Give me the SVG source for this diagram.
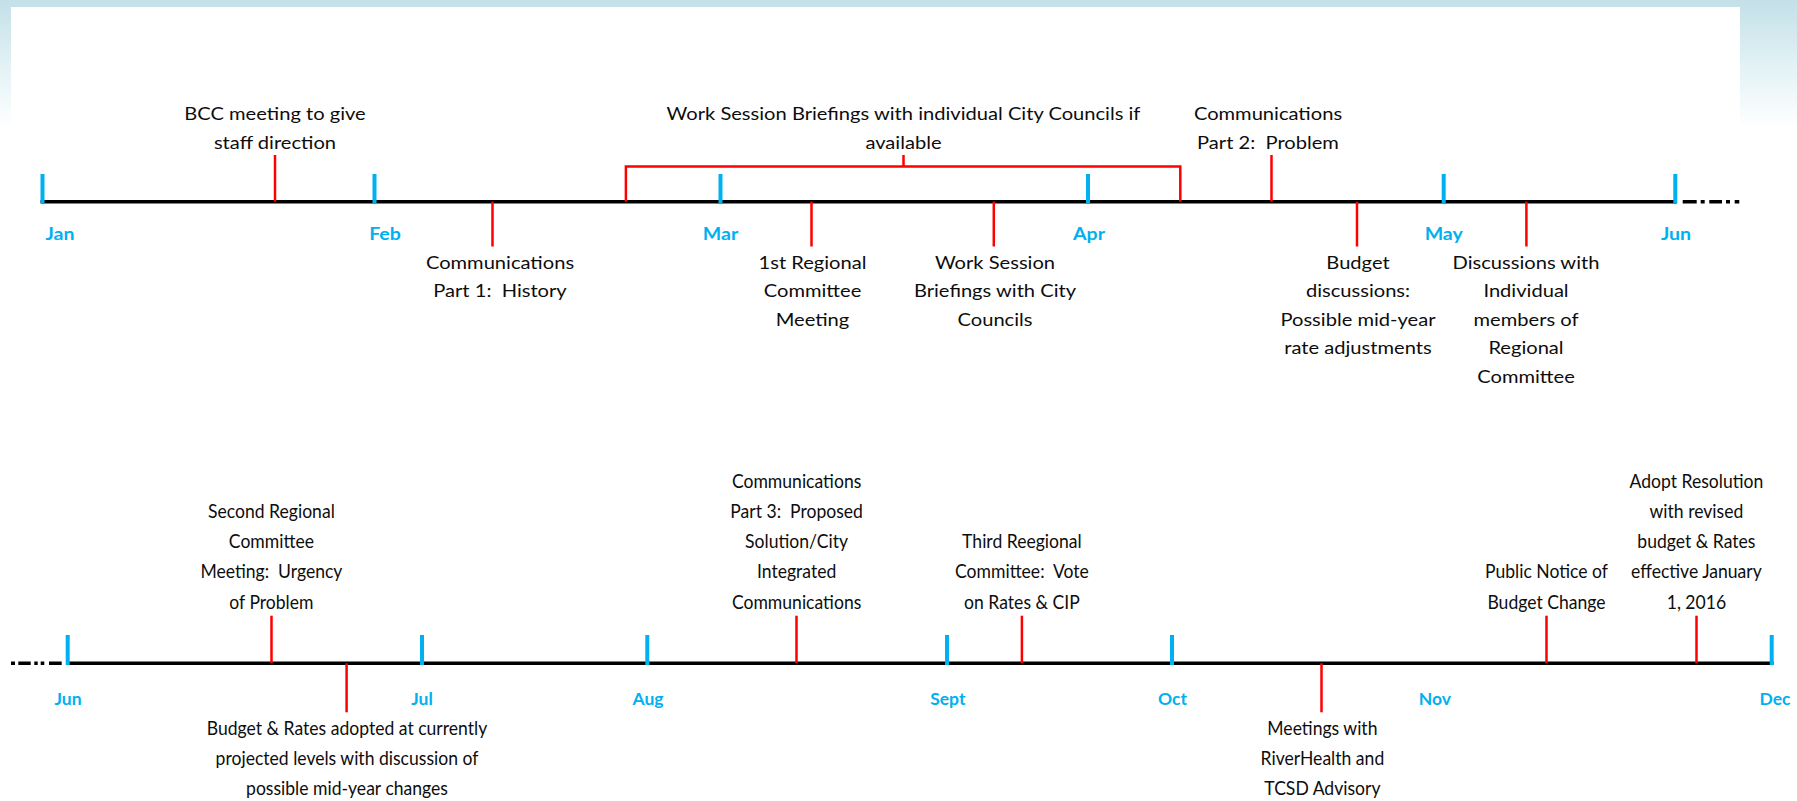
<svg xmlns="http://www.w3.org/2000/svg" width="1797" height="801" viewBox="0 0 1797 801">
<defs>
<linearGradient id="bg" x1="0" y1="0" x2="0" y2="1">
<stop offset="0" stop-color="#c3e0e8"/>
<stop offset="0.55" stop-color="#e4f3f6"/>
<stop offset="1" stop-color="#ffffff"/>
</linearGradient>
<style>
.axis{stroke:#000;stroke-width:3.5;fill:none}
.dd{stroke:#000;stroke-width:3.5;fill:none}
.tick{stroke:#00B0F0;stroke-width:4}
.ev{stroke:#FF0000;stroke-width:2.5;fill:none}
.t1{font-family:Lato,"Open Sans",sans-serif;font-size:16.5px;fill:#0d0d0d;text-anchor:middle;white-space:pre}
.t2{font-family:Lato,"Open Sans",sans-serif;font-size:18.5px;fill:#0d0d0d;text-anchor:middle;white-space:pre}
.m1{font-family:Lato,"Open Sans",sans-serif;font-size:17px;font-weight:bold;fill:#00B0F0;text-anchor:middle}
.m2{font-family:Lato,"Open Sans",sans-serif;font-size:17.5px;font-weight:bold;fill:#00B0F0;text-anchor:middle}
</style>
</defs>
<rect x="0" y="0" width="1797" height="801" fill="#ffffff"/>
<rect x="0" y="0" width="1797" height="128" fill="url(#bg)"/>
<rect x="11" y="7" width="1729" height="794" fill="#ffffff"/>

<g id="connectors">
<line class="axis" x1="40.5" y1="201.7" x2="1677" y2="201.7"/>
<path class="dd" d="M1682.7 201.7H1696.7M1700.7 201.7H1704.7M1709.3 201.7H1722M1726 201.7H1730M1734.7 201.7H1739.3"/>
<line class="axis" x1="66" y1="663.3" x2="1773.5" y2="663.3"/>
<path class="dd" d="M11 663.3H15M18.3 663.3H30.7M34.3 663.3H37.7M40.7 663.3H44.3M49 663.3H61.7"/>
</g>

<g id="months-top">
<line class="tick" x1="42.5" y1="174" x2="42.5" y2="203"/>
<line class="tick" x1="374.5" y1="174" x2="374.5" y2="203"/>
<line class="tick" x1="720.5" y1="174" x2="720.5" y2="203"/>
<line class="tick" x1="1088" y1="174" x2="1088" y2="203"/>
<line class="tick" x1="1443.7" y1="174" x2="1443.7" y2="203"/>
<line class="tick" x1="1675.3" y1="174" x2="1675.3" y2="203"/>
<g transform="translate(60,240) scale(1.15,1)"><text class="m1" x="0" y="0">Jan</text></g>
<g transform="translate(385,240) scale(1.15,1)"><text class="m1" x="0" y="0">Feb</text></g>
<g transform="translate(720.5,240) scale(1.15,1)"><text class="m1" x="0" y="0">Mar</text></g>
<g transform="translate(1089,240) scale(1.15,1)"><text class="m1" x="0" y="0">Apr</text></g>
<g transform="translate(1443.7,240) scale(1.15,1)"><text class="m1" x="0" y="0">May</text></g>
<g transform="translate(1676,240) scale(1.15,1)"><text class="m1" x="0" y="0">Jun</text></g>
</g>

<g id="months-bottom">
<line class="tick" x1="67.7" y1="635" x2="67.7" y2="665"/>
<line class="tick" x1="422" y1="635" x2="422" y2="665"/>
<line class="tick" x1="647.3" y1="635" x2="647.3" y2="665"/>
<line class="tick" x1="947" y1="635" x2="947" y2="665"/>
<line class="tick" x1="1172" y1="635" x2="1172" y2="665"/>
<line class="tick" x1="1771.7" y1="635" x2="1771.7" y2="665"/>
<text class="m2" x="68" y="705">Jun</text>
<text class="m2" x="422" y="705">Jul</text>
<text class="m2" x="648" y="705">Aug</text>
<text class="m2" x="947.8" y="705">Sept</text>
<text class="m2" x="1172.5" y="705">Oct</text>
<text class="m2" x="1434.8" y="705">Nov</text>
<text class="m2" x="1775" y="705">Dec</text>
</g>

<g id="bcc">
<line class="ev" x1="275" y1="155" x2="275" y2="201.7"/>
<g transform="translate(275,0) scale(1.22,1)"><text class="t1" x="0" y="120.5">BCC meeting to give</text><text class="t1" x="0" y="149">staff direction</text></g>
</g>
<g id="comm1">
<line class="ev" x1="492.5" y1="201.7" x2="492.5" y2="246.5"/>
<g transform="translate(500,0) scale(1.22,1)"><text class="t1" x="0" y="269">Communications</text><text class="t1" x="0" y="297.5">Part 1:  History</text></g>
</g>
<g id="wsb-individual">
<path class="ev" d="M625.9 201.7V166.5H1180.3V201.7M903.5 166.5V155"/>
<g transform="translate(903.5,0) scale(1.22,1)"><text class="t1" x="0" y="120.5">Work Session Briefings with individual City Councils if</text><text class="t1" x="0" y="149">available</text></g>
</g>
<g id="reg1">
<line class="ev" x1="811.5" y1="201.7" x2="811.5" y2="246.5"/>
<g transform="translate(812.5,0) scale(1.22,1)"><text class="t1" x="0" y="269">1st Regional</text><text class="t1" x="0" y="297.5">Committee</text><text class="t1" x="0" y="326">Meeting</text></g>
</g>
<g id="wsb-city">
<line class="ev" x1="993.8" y1="201.7" x2="993.8" y2="246.5"/>
<g transform="translate(995,0) scale(1.22,1)"><text class="t1" x="0" y="269">Work Session</text><text class="t1" x="0" y="297.5">Briefings with City</text><text class="t1" x="0" y="326">Councils</text></g>
</g>
<g id="comm2">
<line class="ev" x1="1271.5" y1="155" x2="1271.5" y2="201.7"/>
<g transform="translate(1268,0) scale(1.22,1)"><text class="t1" x="0" y="120.5">Communications</text><text class="t1" x="0" y="149">Part 2:  Problem</text></g>
</g>
<g id="budget">
<line class="ev" x1="1357" y1="201.7" x2="1357" y2="246.5"/>
<g transform="translate(1358,0) scale(1.22,1)"><text class="t1" x="0" y="269">Budget</text><text class="t1" x="0" y="297.5">discussions:</text><text class="t1" x="0" y="326">Possible mid-year</text><text class="t1" x="0" y="354.5">rate adjustments</text></g>
</g>
<g id="discussions">
<line class="ev" x1="1526.4" y1="201.7" x2="1526.4" y2="246.5"/>
<g transform="translate(1526,0) scale(1.22,1)"><text class="t1" x="0" y="269">Discussions with</text><text class="t1" x="0" y="297.5">Individual</text><text class="t1" x="0" y="326">members of</text><text class="t1" x="0" y="354.5">Regional</text><text class="t1" x="0" y="383">Committee</text></g>
</g>

<g id="reg2">
<line class="ev" x1="271.5" y1="615.7" x2="271.5" y2="663.3"/>
<g transform="translate(271.4,0) scale(0.95,1)"><text class="t2" x="0" y="518.3">Second Regional</text><text class="t2" x="0" y="548.3">Committee</text><text class="t2" x="0" y="578.3">Meeting:  Urgency</text><text class="t2" x="0" y="609">of Problem</text></g>
</g>
<g id="budget-rates">
<line class="ev" x1="346.6" y1="663.3" x2="346.6" y2="712.3"/>
<g transform="translate(347,0) scale(0.95,1)"><text class="t2" x="0" y="735">Budget &amp; Rates adopted at currently</text><text class="t2" x="0" y="765">projected levels with discussion of</text><text class="t2" x="0" y="795">possible mid-year changes</text></g>
</g>
<g id="comm3">
<line class="ev" x1="796.5" y1="615.7" x2="796.5" y2="663.3"/>
<g transform="translate(796.6,0) scale(0.95,1)"><text class="t2" x="0" y="488.3">Communications</text><text class="t2" x="0" y="518.3">Part 3:  Proposed</text><text class="t2" x="0" y="548.3">Solution/City</text><text class="t2" x="0" y="578.3">Integrated</text><text class="t2" x="0" y="609">Communications</text></g>
</g>
<g id="reg3">
<line class="ev" x1="1021.9" y1="615.7" x2="1021.9" y2="663.3"/>
<g transform="translate(1021.9,0) scale(0.95,1)"><text class="t2" x="0" y="548.3">Third Reegional</text><text class="t2" x="0" y="578.3">Committee:  Vote</text><text class="t2" x="0" y="609">on Rates &amp; CIP</text></g>
</g>
<g id="meetings">
<line class="ev" x1="1321.5" y1="663.3" x2="1321.5" y2="712.3"/>
<g transform="translate(1322.4,0) scale(0.95,1)"><text class="t2" x="0" y="735">Meetings with</text><text class="t2" x="0" y="765">RiverHealth and</text><text class="t2" x="0" y="795">TCSD Advisory</text></g>
</g>
<g id="notice">
<line class="ev" x1="1546.5" y1="615.7" x2="1546.5" y2="663.3"/>
<g transform="translate(1546.5,0) scale(0.95,1)"><text class="t2" x="0" y="578.3">Public Notice of</text><text class="t2" x="0" y="609">Budget Change</text></g>
</g>
<g id="adopt">
<line class="ev" x1="1696.5" y1="615.7" x2="1696.5" y2="663.3"/>
<g transform="translate(1696.4,0) scale(0.95,1)"><text class="t2" x="0" y="488.3">Adopt Resolution</text><text class="t2" x="0" y="518.3">with revised</text><text class="t2" x="0" y="548.3">budget &amp; Rates</text><text class="t2" x="0" y="578.3">effective January</text><text class="t2" x="0" y="609">1, 2016</text></g>
</g>
</svg>
